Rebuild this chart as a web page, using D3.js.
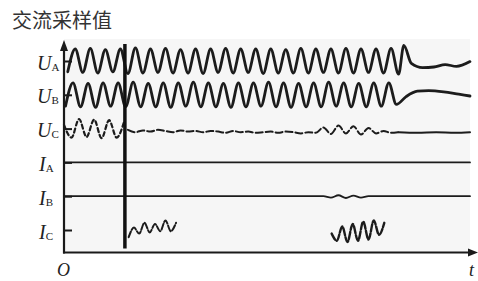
<!DOCTYPE html>
<html>
<head>
<meta charset="utf-8">
<script src="https://cdn.jsdelivr.net/npm/d3@7"></script>
<style>
    html, body { margin: 0; padding: 0; background: #fff; }
    svg { display: block; }
    .title { font-family: "Noto Sans CJK SC", sans-serif; font-size: 20px; fill: #333; }
    .lbl { font-family: "Liberation Serif", "DejaVu Serif", serif; fill: #222; }
    .wave { fill: none; stroke: #1c1c1c; stroke-linejoin: round; stroke-linecap: round; }
</style>
</head>
<body>
<svg id="chart"></svg>
<script>
const width = 478;
const height = 281;

// channels (top to bottom) and their label parts
const channels = ['UA', 'UB', 'UC', 'IA', 'IB', 'IC'];
const chLetter = ['U', 'U', 'U', 'I', 'I', 'I'];
const chPhase = ['A', 'B', 'C', 'A', 'B', 'C'];

// time in ms
const tMax = 540;
const faultT = 81;
const step = 10;

// UA: samples every 10 ms starting at 5 ms (trough / peak alternating)
const uaStart = 5;
const uaVals = [
    -0.9, 1.0, -0.95, 1.05, -1.0, 0.95, -0.9, 1.0, -1.05, 1.1,
    -1.0, 1.0, -0.95, 1.05, -1.0, 0.95, -1.0, 1.0, -1.05, 1.0,
    -0.95, 1.05, -1.0, 1.0, -0.95, 1.0, -1.05, 1.0, -1.0, 0.95,
    -1.0, 1.05, -1.0, 1.0, -0.95, 1.0, -1.0, 1.05, -1.0, 1.0,
    -0.95, 1.0, -1.0, 1.05, -1.1
];
const uaTailT = [452, 462, 477, 492, 507, 522, 540];
const uaTailV = [1.3, -0.2, -0.55, -0.5, -0.3, -0.45, -0.05];

// UB
const ubStart = 2;
const ubVals = [
    -0.95, 1.0, -1.0, 0.95, -1.05, 1.0, -0.95, 1.0, -1.0, 1.05,
    -1.0, 0.95, -1.0, 1.0, -1.05, 1.0, -0.95, 1.05, -1.0, 1.0,
    -1.0, 0.95, -1.05, 1.0, -1.0, 1.0, -0.95, 1.05, -1.0, 1.0,
    -1.05, 0.95, -1.0, 1.0, -1.0, 1.05, -0.95, 1.0, -1.0, 0.95,
    -1.0, 1.0, -0.95, 1.0, -0.8
];
const ubTailT = [455, 470, 485, 505, 525, 540];
const ubTailV = [-0.15, 0.3, 0.35, 0.25, 0.05, -0.1];

// UC: before fault, after fault (noisy), and settled tail
const ucPreStart = 0;
const ucPreVals = [0.3, -0.75, 0.8, -0.7, 0.75, -0.8, 0.7, -0.75, 0.6];
const ucPostStart = 85;
const ucPostVals = [
    -0.1, -0.3, -0.15, -0.25, -0.1, -0.2, -0.3, -0.15, -0.25, -0.2,
    -0.3, -0.2, -0.25, -0.35, -0.2, -0.3, -0.25, -0.35, -0.3, -0.25,
    -0.35, -0.25, -0.3, -0.4, -0.3, -0.35, 0.1, -0.45, 0.25, -0.4,
    0.2, -0.5, 0.05, -0.4, -0.2, -0.35, -0.3
];
const ucTailT = [445, 470, 495, 520, 540];
const ucTailV = [-0.3, -0.35, -0.3, -0.35, -0.3];

// IA, IB
const iaT = [0, 540];
const iaV = [0, 0];
const ibT = [0, 345, 355, 365, 375, 385, 395, 405, 540];
const ibV = [0, 0, -0.12, 0.08, -0.15, 0.05, -0.12, 0, 0];

// IC bursts, samples every 7 ms
const icStep = 7;
const icBurst1Start = 86;
const icBurst1 = [-0.6, 0.2, -0.3, 0.6, -0.2, 0.5, -0.1, 0.8, -0.1, 0.6];
const icBurst2Start = 356;
const icBurst2 = [-0.3, -0.9, 0.3, -1.0, 0.5, -0.9, 0.7, -0.8, 0.8, -0.4, 0.6];

const margin = ({top: 40, right: 8, bottom: 28, left: 64});
const plotRight = 470;
const axisY = 252.5;

const x = d3.scaleLinear().domain([0, tMax]).range([margin.left, plotRight]);
const yCh = d3.scalePoint().domain(channels).range([61, 230]);
const amp = d3.scaleLinear().domain([-1, 1]).range([12, -12]);

const sampled = (start, st, vals) => vals.map((v, i) => ({t: start + i * st, v}));
const zipped = (ts, vs) => ts.map((t, i) => ({t, v: vs[i]}));

const svg = d3.select('#chart').attr('width', width).attr('height', height);

// plot background
svg.append('rect')
    .attr('x', margin.left)
    .attr('y', margin.top - 1)
    .attr('width', plotRight - margin.left)
    .attr('height', axisY - margin.top + 1)
    .attr('fill', '#f6f6f6');

// title
svg.append('text')
    .attr('class', 'title')
    .attr('x', 12)
    .attr('y', 28)
    .text('交流采样值');

const lineFor = ch => d3.line()
    .x(d => x(d.t))
    .y(d => yCh(ch) + amp(d.v))
    .curve(d3.curveMonotoneX);

const g = svg.append('g');

// UA
g.append('path')
    .attr('class', 'wave')
    .attr('stroke-width', 2.8)
    .attr('d', lineFor('UA')(sampled(uaStart, step, uaVals).concat(zipped(uaTailT, uaTailV))));

// UB
g.append('path')
    .attr('class', 'wave')
    .attr('stroke-width', 2.8)
    .attr('d', lineFor('UB')(sampled(ubStart, step, ubVals).concat(zipped(ubTailT, ubTailV))));

// UC
g.append('path')
    .attr('class', 'wave')
    .attr('stroke-width', 2.2)
    .attr('stroke-dasharray', '4,3')
    .attr('d', lineFor('UC')(sampled(ucPreStart, step, ucPreVals)));
g.append('path')
    .attr('class', 'wave')
    .attr('stroke-width', 2)
    .attr('stroke', '#333')
    .attr('stroke-dasharray', '7,3')
    .attr('d', lineFor('UC')(sampled(ucPostStart, step, ucPostVals)));
g.append('path')
    .attr('class', 'wave')
    .attr('stroke-width', 2)
    .attr('d', lineFor('UC')(zipped(ucTailT, ucTailV)));

// IA, IB
g.append('path')
    .attr('class', 'wave')
    .attr('stroke-width', 1.8)
    .attr('d', lineFor('IA')(zipped(iaT, iaV)));
g.append('path')
    .attr('class', 'wave')
    .attr('stroke-width', 1.8)
    .attr('d', lineFor('IB')(zipped(ibT, ibV)));

// IC bursts
g.append('path')
    .attr('class', 'wave')
    .attr('stroke-width', 2)
    .attr('stroke', '#444')
    .attr('stroke-dasharray', '6,2')
    .attr('d', lineFor('IC')(sampled(icBurst1Start, icStep, icBurst1)));
g.append('path')
    .attr('class', 'wave')
    .attr('stroke-width', 2.4)
    .attr('stroke-dasharray', '7,2')
    .attr('d', lineFor('IC')(sampled(icBurst2Start, icStep, icBurst2)));

// fault instant
g.append('line')
    .attr('x1', x(faultT)).attr('x2', x(faultT))
    .attr('y1', margin.top + 4).attr('y2', axisY - 4)
    .attr('stroke', '#111')
    .attr('stroke-width', 3.5);

// y ticks + labels
const yAxis = d3.axisLeft(yCh)
    .tickSizeInner(-8)
    .tickSizeOuter(0)
    .tickFormat('');

const yAxisG = svg.append('g')
    .attr('transform', `translate(${margin.left},0)`)
    .call(yAxis);
yAxisG.select('.domain').remove();
yAxisG.selectAll('.tick line').attr('stroke', '#1a1a1a').attr('stroke-width', 2);

const lbl = yAxisG.selectAll('.tick').append('text')
    .attr('class', 'lbl')
    .attr('x', (d, i) => chLetter[i] === 'U' ? -27 : -25)
    .attr('y', 8)
    .attr('text-anchor', 'start')
    .attr('fill', '#222');
lbl.append('tspan')
    .attr('font-style', 'italic')
    .attr('font-size', 20)
    .text((d, i) => chLetter[i]);
lbl.append('tspan')
    .attr('font-size', 11)
    .attr('dy', 1)
    .text((d, i) => chPhase[i]);

// axes with arrows
svg.append('line')
    .attr('x1', margin.left).attr('x2', margin.left)
    .attr('y1', axisY + 1).attr('y2', 48)
    .attr('stroke', '#1a1a1a').attr('stroke-width', 2.2);
svg.append('path')
    .attr('d', `M${margin.left},40 L${margin.left - 4},51 L${margin.left + 4},51 Z`)
    .attr('fill', '#1a1a1a');

svg.append('line')
    .attr('x1', margin.left - 1).attr('x2', 471)
    .attr('y1', axisY).attr('y2', axisY)
    .attr('stroke', '#1a1a1a').attr('stroke-width', 2.2);
svg.append('path')
    .attr('d', `M478,${axisY} L468,${axisY - 4} L468,${axisY + 4} Z`)
    .attr('fill', '#1a1a1a');

svg.append('text')
    .attr('class', 'lbl')
    .attr('x', 57).attr('y', 276)
    .attr('font-style', 'italic')
    .attr('font-size', 18)
    .text('O');
svg.append('text')
    .attr('class', 'lbl')
    .attr('x', 469).attr('y', 276)
    .attr('font-style', 'italic')
    .attr('font-size', 18)
    .text('t');
</script>
</body>
</html>
